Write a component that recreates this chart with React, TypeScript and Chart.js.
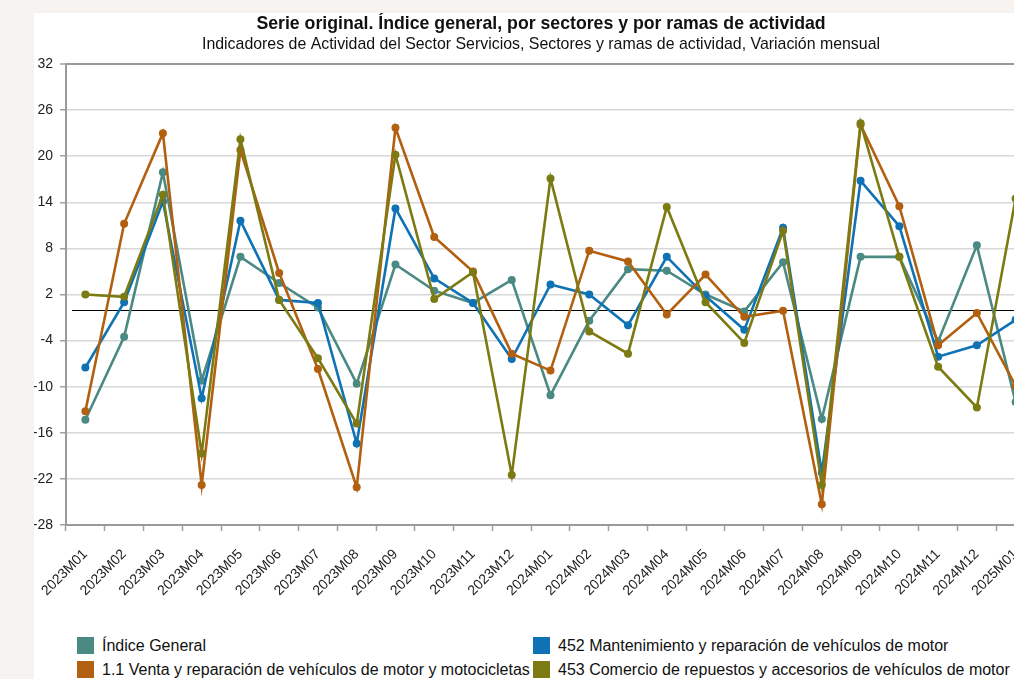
import React, { useEffect, useRef } from "react";
import { Chart, registerables } from "chart.js";

Chart.register(...registerables);

const categories = [
  "2023M01", "2023M02", "2023M03", "2023M04", "2023M05", "2023M06",
  "2023M07", "2023M08", "2023M09", "2023M10", "2023M11", "2023M12",
  "2024M01", "2024M02", "2024M03", "2024M04", "2024M05", "2024M06",
  "2024M07", "2024M08", "2024M09", "2024M10", "2024M11", "2024M12",
  "2025M01",
];

const indiceGeneral = [-14.3, -3.5, 17.9, -9.2, 6.9, 3.5, 0.3, -9.6, 5.9, 2.5, 0.9, 3.9, -11.1, -1.4, 5.3, 5.1, 2.0, -0.2, 6.2, -14.2, 6.9, 6.9, -4.1, 8.4, -12.0];
const mantenimiento452 = [-7.5, 1.0, 14.1, -11.5, 11.6, 1.3, 0.9, -17.4, 13.2, 4.1, 0.9, -6.4, 3.3, 2.0, -2.0, 6.9, 1.8, -2.6, 10.7, -21.2, 16.8, 10.9, -6.1, -4.6, -1.3];
const venta11 = [-13.2, 11.2, 23.0, -22.8, 20.8, 4.8, -7.7, -23.1, 23.7, 9.5, 5.0, -5.7, -7.9, 7.7, 6.3, -0.6, 4.6, -0.9, -0.1, -25.3, 24.1, 13.5, -4.6, -0.4, -9.9];
const comercio453 = [2.0, 1.7, 15.0, -18.7, 22.2, 1.3, -6.3, -14.8, 20.2, 1.4, 4.9, -21.5, 17.1, -2.8, -5.7, 13.4, 1.0, -4.3, 10.3, -22.8, 24.3, 6.9, -7.4, -12.7, 14.5];

const seriesNames = [
  "Índice General",
  "452 Mantenimiento y reparación de vehículos de motor",
  "1.1 Venta y reparación de vehículos de motor y motocicletas",
  "453 Comercio de repuestos y accesorios de vehículos de motor",
];
const seriesColors = ["#4a8a82", "#0e72b5", "#b2600f", "#7c7b13"];

const titleText = "Serie original. Índice general, por sectores y por ramas de actividad";
const subtitleText = "Indicadores de Actividad del Sector Servicios, Sectores y ramas de actividad, Variación mensual";

const yMin = -28;
const yMax = 32;
const yStep = 6;

const FONT = "'Liberation Sans', Arial, Helvetica, sans-serif";

const zeroLinePlugin = {
  id: "zeroLine",
  beforeDatasetsDraw(chart: any) {
    const { ctx, chartArea, scales } = chart;
    const y = Math.round(scales.y.getPixelForValue(0)) + 0.5;
    ctx.save();
    ctx.strokeStyle = "#000";
    ctx.lineWidth = 1;
    ctx.beginPath();
    ctx.moveTo(chartArea.left + 6, y);
    ctx.lineTo(chartArea.right, y);
    ctx.stroke();
    ctx.restore();
  },
};

export default function App() {
  const canvasRef = useRef<HTMLCanvasElement | null>(null);

  useEffect(() => {
    if (!canvasRef.current) return;
    const values = [indiceGeneral, mantenimiento452, venta11, comercio453];
    const drawOrder = [3, 2, 1, 0];
    const chart = new Chart(canvasRef.current, {
      type: "line",
      data: {
        labels: categories,
        datasets: values.map((v, i) => ({
          label: seriesNames[i],
          data: v,
          borderColor: seriesColors[i],
          backgroundColor: seriesColors[i],
          pointBackgroundColor: seriesColors[i],
          pointBorderColor: seriesColors[i],
          borderWidth: 2.6,
          pointRadius: 4,
          pointBorderWidth: 0,
          tension: 0,
          order: drawOrder[i],
        })),
      },
      plugins: [zeroLinePlugin],
      options: {
        responsive: false,
        animation: false,
        devicePixelRatio: 1,
        layout: { padding: 0 },
        plugins: {
          legend: { display: false },
          title: {
            display: true,
            text: titleText,
            color: "#111",
            font: { family: FONT, size: 17.7, weight: "bold", lineHeight: 1.2 },
            padding: { top: 0, bottom: 1.2 },
          },
          subtitle: {
            display: true,
            text: subtitleText,
            color: "#111",
            font: { family: FONT, size: 15.9, lineHeight: 1.2 },
            padding: { top: 0, bottom: 9.5 },
          },
          tooltip: { enabled: true },
        },
        scales: {
          x: {
            type: "category",
            offset: true,
            grid: {
              offset: true,
              drawOnChartArea: false,
              drawTicks: true,
              tickLength: 6,
              tickColor: "#a0a0a0",
              tickWidth: 1.5,
            },
            border: { display: true, color: "#9a9a9a", width: 2 },
            ticks: {
              autoSkip: false,
              minRotation: 45,
              maxRotation: 45,
              color: "#222",
              padding: 15,
              font: { family: FONT, size: 14 },
            },
            afterFit(scale: any) {
              scale.height = 88;
              scale.paddingLeft = 0;
              scale.paddingRight = 13;
            },
          },
          y: {
            min: yMin,
            max: yMax,
            grid: {
              color: (c: any) => (c.tick && c.tick.value === yMax ? "#9a9a9a" : "#d8d8d8"),
              lineWidth: (c: any) => (c.tick && c.tick.value === yMax ? 2 : 1.5),
              drawTicks: true,
              tickLength: 6,
              tickColor: "#a0a0a0",
              tickWidth: 1.5,
            },
            border: { display: true, color: "#9a9a9a", width: 2 },
            ticks: {
              stepSize: yStep,
              color: "#222",
              padding: 7,
              font: { family: FONT, size: 14 },
            },
            afterFit(scale: any) {
              scale.width = 32;
              scale.paddingTop = 0;
              scale.paddingBottom = 0;
            },
          },
        },
      },
    } as any);
    return () => chart.destroy();
  }, []);

  const legendRow = (idx: number, left: number, top: number) => (
    <div
      key={idx}
      style={{
        position: "absolute",
        left,
        top,
        display: "flex",
        alignItems: "center",
        height: 17,
        whiteSpace: "nowrap",
      }}
    >
      <span
        style={{
          display: "inline-block",
          width: 17,
          height: 17,
          background: seriesColors[idx],
          marginRight: 8,
        }}
      />
      <span style={{ fontFamily: FONT, fontSize: 16, color: "#111" }}>{seriesNames[idx]}</span>
    </div>
  );

  return (
    <div
      style={{
        position: "fixed",
        left: 0,
        top: 0,
        width: 1014,
        height: 679,
        overflow: "hidden",
        background: "#f5f2ef",
      }}
    >
      <div
        style={{
          position: "absolute",
          left: 34,
          top: 13,
          width: 1014,
          height: 700,
          background: "#fff",
        }}
      >
        <canvas ref={canvasRef} width={1014} height={600} style={{ display: "block" }} />
      </div>
      {legendRow(0, 77, 637)}
      {legendRow(2, 77, 661)}
      {legendRow(1, 533, 637)}
      {legendRow(3, 533, 661)}
    </div>
  );
}
